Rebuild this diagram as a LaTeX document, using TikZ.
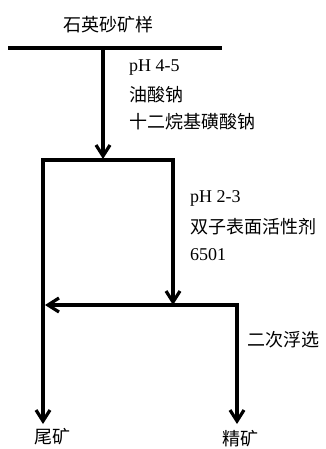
\documentclass[tikz,border=0pt]{standalone}
\usepackage{fontspec}
\setmainfont{Liberation Serif}
\newfontfamily\cjk{Noto Sans CJK SC}
\usetikzlibrary{arrows.meta}
\begin{document}
\begin{tikzpicture}[x=1pt,y=-1pt,
  flow/.style={line width=3.6pt},
  arr/.style={flow,-{Straight Barb[length=11pt,width=14pt,line width=3.2pt]}},
  lbl/.style={anchor=west,inner sep=0pt,font=\fontsize{18}{20}\selectfont}]
\useasboundingbox (0,0) rectangle (326,449);
% texts
\node[lbl,anchor=center] (feed) at (108,25) {\cjk 石英砂矿样};
\node[lbl] (c1) at (129,67) {pH 4-5};
\node[lbl] (c2) at (129,95) {\cjk 油酸钠};
\node[lbl] (c3) at (129,122) {\cjk 十二烷基磺酸钠};
\node[lbl] (d1) at (190,198) {pH 2-3};
\node[lbl] (d2) at (190,227) {\cjk 双子表面活性剂};
\node[lbl] (d3) at (190,255) {6501};
\node[lbl] (e1) at (247,340) {\cjk 二次浮选};
\node[lbl,anchor=center] (tail) at (52,437) {\cjk 尾矿};
\node[lbl,anchor=center] (conc) at (240,439) {\cjk 精矿};
% coordinates
\coordinate (t1) at (8,48);
\coordinate (t2) at (222,48);
\coordinate (s1) at (103,48);
\coordinate (s2) at (103,159);
\coordinate (m1) at (41.2,160);
\coordinate (m2) at (174.8,160);
\coordinate (r1) at (173,160);
\coordinate (r2) at (173,305);
\coordinate (b1) at (238.8,305);
\coordinate (b2) at (45,305);
\coordinate (l1) at (43,158.2);
\coordinate (l2) at (43,424);
\coordinate (k1) at (237,303.2);
\coordinate (k2) at (237,424);
% lines
\draw[flow] (t1) -- (t2);
\draw[arr] (s1) -- (s2);
\draw[flow] (m1) -- (m2);
\draw[arr] (r1) -- (r2);
\draw[arr] (b1) -- (b2);
\draw[arr] (l1) -- (l2);
\draw[arr] (k1) -- (k2);
\end{tikzpicture}
\end{document}
